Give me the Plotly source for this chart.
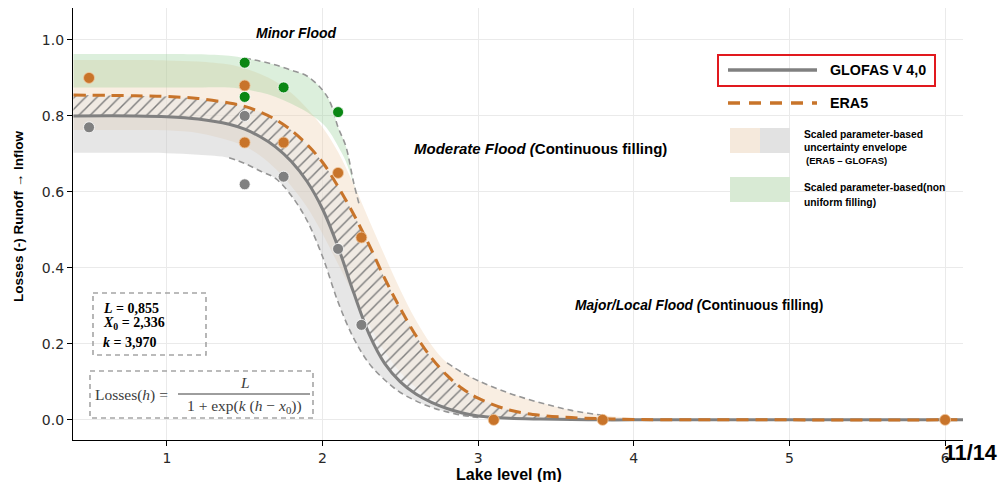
import plotly.graph_objects as go

# ---------------- data ----------------
h_curve = [0.4, 0.8, 1.0, 1.2, 1.4, 1.5, 1.6, 1.7, 1.8, 1.9, 2.0, 2.1, 2.2, 2.3, 2.4,
           2.5, 2.6, 2.7, 2.8, 2.9, 3.0, 3.2, 3.4, 3.6, 3.8, 4.0, 5.0, 6.12]
glofas = [0.800, 0.800, 0.798, 0.792, 0.778, 0.765, 0.745, 0.718, 0.680, 0.628, 0.555,
          0.455, 0.335, 0.225, 0.148, 0.100, 0.068, 0.046, 0.030, 0.018, 0.010, 0.004,
          0.002, 0.001, 0.0, 0.0, 0.0, 0.0]
era5 = [0.855, 0.853, 0.851, 0.846, 0.834, 0.825, 0.810, 0.790, 0.762, 0.725, 0.678,
        0.614, 0.541, 0.460, 0.372, 0.293, 0.222, 0.163, 0.117, 0.082, 0.057, 0.026,
        0.012, 0.006, 0.003, 0.001, 0.0, 0.0]
glofas_lower = [0.703, 0.703, 0.702, 0.698, 0.690, 0.675, 0.655, 0.635, 0.590, 0.525, 0.430,
                0.310, 0.215, 0.148, 0.105, 0.072, 0.050, 0.033, 0.021, 0.012, 0.006, 0.002,
                0.0, 0.0, 0.0, 0.0, 0.0, 0.0]
era5_upper = [0.947, 0.947, 0.946, 0.943, 0.935, 0.925, 0.910, 0.890, 0.860, 0.820, 0.770,
              0.705, 0.620, 0.525, 0.432, 0.342, 0.262, 0.197, 0.150, 0.124, 0.103, 0.070,
              0.045, 0.025, 0.012, 0.005, 0.0, 0.0]
era5_lower = [0.763, 0.763, 0.762, 0.755, 0.735, 0.720, 0.695, 0.660, 0.615, 0.560, 0.490,
              0.410, 0.330, 0.250, 0.180, 0.125, 0.085, 0.055, 0.035, 0.022, 0.013, 0.005,
              0.002, 0.0, 0.0, 0.0, 0.0, 0.0]

h_green = [0.4, 1.0, 1.2, 1.4, 1.5, 1.6, 1.7, 1.8, 1.9, 2.0, 2.05, 2.1, 2.15, 2.2, 2.24]
green_upper = [0.963, 0.963, 0.962, 0.958, 0.952, 0.944, 0.934, 0.920, 0.905, 0.868,
               0.835, 0.770, 0.720, 0.625, 0.560]
green_lower = [0.875, 0.875, 0.875, 0.875, 0.870, 0.862, 0.850, 0.832, 0.810, 0.780,
               0.755, 0.720, 0.680, 0.620, 0.560]

glofas_obs_h = [0.5, 1.5, 1.5, 1.75, 2.1, 2.25]
glofas_obs_v = [0.77, 0.80, 0.62, 0.64, 0.45, 0.25]
era5_obs_h = [0.5, 1.5, 1.5, 1.75, 2.1, 2.25, 3.1, 3.8, 6.0]
era5_obs_v = [0.90, 0.88, 0.73, 0.73, 0.65, 0.48, 0.0, 0.0, 0.0]
green_obs_h = [1.5, 1.5, 1.75, 2.1]
green_obs_v = [0.94, 0.85, 0.875, 0.81]

x_ticks = [1, 2, 3, 4, 5, 6]
y_ticks = [0.0, 0.2, 0.4, 0.6, 0.8, 1.0]
y_ticktext = ["0.0", "0.2", "0.4", "0.6", "0.8", "1.0"]

# ---------------- styles ----------------
GRAY = "rgb(128,128,128)"
ORANGE = "rgb(200,116,42)"
GREEN = "rgb(10,135,20)"
DASHGRAY = "rgb(150,150,150)"

# pixel -> paper helpers for decorations
L_PX, R_PX, T_PX, B_PX = 73, 963, 8, 440
def px(x):
    return (x - L_PX) / (R_PX - L_PX)
def py(y):
    return (B_PX - y) / (B_PX - T_PX)

fig = go.Figure()

def band(xl, yl, xu, yu, color, pattern=None):
    fig.add_trace(go.Scatter(x=xl, y=yl, mode="lines", line=dict(width=0, shape="spline"),
                             hoverinfo="skip", showlegend=False))
    kw = {}
    if pattern:
        kw["fillpattern"] = pattern
    fig.add_trace(go.Scatter(x=xu, y=yu, mode="lines", line=dict(width=0, shape="spline"),
                             fill="tonexty", fillcolor=color, hoverinfo="skip",
                             showlegend=False, **kw))

band(h_curve, era5_lower, h_curve, era5_upper, "rgba(238,208,175,0.36)")
band(h_curve, glofas_lower, h_curve, glofas, "rgba(200,200,200,0.45)")
band(h_green, green_lower, h_green, green_upper, "rgba(150,205,150,0.33)")
band(h_curve, glofas, h_curve, era5, "rgba(225,222,220,0.45)",
     pattern=dict(shape="/", fgcolor="rgb(125,125,125)", bgcolor="rgba(232,230,228,0.5)",
                  size=8, solidity=0.18, fillmode="replace"))

# dashed envelope boundaries
def seg(xs, ys, lo, hi):
    pts = [(a, b) for a, b in zip(xs, ys) if lo <= a <= hi]
    return [p[0] for p in pts], [p[1] for p in pts]

for xs, ys, lo, hi in [(h_green, green_upper, 1.45, 2.24),
                       (h_curve, glofas_lower, 1.4, 3.0),
                       (h_curve, era5_upper, 2.8, 3.8)]:
    sx, sy = seg(xs, ys, lo, hi)
    fig.add_trace(go.Scatter(x=sx, y=sy, mode="lines",
                             line=dict(color=DASHGRAY, width=1.6, dash="6px,4px", shape="spline"),
                             hoverinfo="skip", showlegend=False))

# main curves
fig.add_trace(go.Scatter(x=h_curve, y=glofas, mode="lines", name="GLOFAS V 4,0",
                         line=dict(color=GRAY, width=3, shape="spline"), showlegend=False))
fig.add_trace(go.Scatter(x=h_curve, y=era5, mode="lines", name="ERA5",
                         line=dict(color=ORANGE, width=3, dash="12px,7px", shape="spline"),
                         showlegend=False))

# observations
fig.add_trace(go.Scatter(x=glofas_obs_h, y=glofas_obs_v, mode="markers",
                         marker=dict(color=GRAY, size=11, line=dict(width=0.8, color="white")),
                         showlegend=False))
fig.add_trace(go.Scatter(x=era5_obs_h, y=era5_obs_v, mode="markers",
                         marker=dict(color=ORANGE, size=11, line=dict(width=0.8, color="rgb(240,200,160)")),
                         showlegend=False))
fig.add_trace(go.Scatter(x=green_obs_h, y=green_obs_v, mode="markers",
                         marker=dict(color=GREEN, size=11, line=dict(width=0.8, color="white")),
                         showlegend=False))

SANS = "Liberation Sans, Arial, sans-serif"
SERIF = "Liberation Serif, Times New Roman, serif"

def ann(x, y, text, size=13, family=SANS, color="black", xanchor="center", angle=0):
    return dict(x=px(x), y=py(y), xref="paper", yref="paper", text=text, showarrow=False,
                font=dict(size=size, family=family, color=color), xanchor=xanchor,
                yanchor="middle", textangle=angle)

annotations = [
    ann(296, 33, "<b><i>Minor Flood</i></b>", 14),
    ann(412, 148, "<b><i>Moderate Flood (</i>Continuous filling)</b>", 15, xanchor="left"),
    ann(573, 305, "<b><i>Major/Local Flood (</i>Continuous filling)</b>", 13.8, xanchor="left"),
    # legend
    ann(828, 70, "<b>GLOFAS V 4,0</b>", 14.3, xanchor="left"),
    ann(828, 103, "<b>ERA5</b>", 14.3, xanchor="left"),
    ann(802, 134, "<b>Scaled parameter-based</b>", 10.3, xanchor="left"),
    ann(802, 147, "<b>uncertainty envelope</b>", 10.3, xanchor="left"),
    ann(804, 160, "<b>(ERA5 – GLOFAS)</b>", 9.5, xanchor="left"),
    ann(802, 188, "<b>Scaled parameter-based(non</b>", 10.3, xanchor="left"),
    ann(802, 202, "<b>uniform filling)</b>", 10.3, xanchor="left"),
    # parameter box
    ann(101, 308, "<b><i>L</i> = 0,855</b>", 14, SERIF, xanchor="left"),
    ann(101, 324, "<b><i>X</i><sub>0</sub> = 2,336</b>", 14, SERIF, xanchor="left"),
    ann(101, 342, "<b><i>k</i> = 3,970</b>", 14, SERIF, xanchor="left"),
    # formula
    ann(93, 395, "Losses(<i>h</i>) =", 15.5, SERIF, color="rgb(60,60,60)", xanchor="left"),
    ann(245, 382, "<i>L</i>", 15.5, SERIF, color="rgb(60,60,60)"),
    ann(244, 406, "1 + exp(<i>k</i> (<i>h</i> − <i>x</i><sub>0</sub>))", 15.5, SERIF,
        color="rgb(60,60,60)"),
    # axis titles
    ann(509, 474, "<b>Lake level (m)</b>", 16),
    ann(18, 217, "<b>Losses (-) Runoff → Inflow</b>", 13.5, angle=-90),
    # page number
    ann(971, 453, "<b>11/14</b>", 21.5),
]

def rect(x0, y0, x1, y1, line=None, fill=None):
    d = dict(type="rect", xref="paper", yref="paper", x0=px(x0), x1=px(x1), y0=py(y0), y1=py(y1),
             layer="above")
    d["line"] = line if line else dict(width=0)
    if fill:
        d["fillcolor"] = fill
    return d

def hline(x0, x1, y, color, width, dash="solid"):
    return dict(type="line", xref="paper", yref="paper", x0=px(x0), x1=px(x1), y0=py(y), y1=py(y),
                line=dict(color=color, width=width, dash=dash), layer="above")

shapes = [
    rect(718, 55, 935, 86, line=dict(color="rgb(225,25,30)", width=2)),
    hline(728, 817, 70, GRAY, 3.5),
    hline(728, 817, 103, ORANGE, 3.5, "12px,9px"),
    rect(730, 128, 760, 153, fill="rgb(245,233,220)"),
    rect(760, 128, 790, 153, fill="rgb(226,226,226)"),
    rect(730, 177, 790, 202, fill="rgb(216,234,212)"),
    rect(93, 293, 206, 355, line=dict(color="rgb(165,165,165)", width=1.6, dash="5px,4px")),
    rect(90, 371, 313, 418, line=dict(color="rgb(165,165,165)", width=1.6, dash="5px,4px")),
    hline(178, 310, 394, "rgb(60,60,60)", 1),
]

fig.update_layout(
    width=1008, height=482,
    margin=dict(l=L_PX, r=1008 - R_PX, t=T_PX, b=482 - B_PX),
    paper_bgcolor="white", plot_bgcolor="white",
    showlegend=False,
    annotations=annotations, shapes=shapes,
    xaxis=dict(range=[0.397, 6.115], tickvals=x_ticks, showgrid=True,
               gridcolor="rgb(234,234,234)", gridwidth=1, zeroline=False,
               showline=True, linecolor="black", linewidth=1.2,
               ticks="outside", ticklen=5, tickcolor="black",
               tickfont=dict(family="DejaVu Sans, sans-serif", size=14, color="rgb(40,40,40)")),
    yaxis=dict(range=[-0.053, 1.084], tickvals=y_ticks, ticktext=y_ticktext, showgrid=True,
               gridcolor="rgb(234,234,234)", gridwidth=1, zeroline=False,
               showline=True, linecolor="black", linewidth=1.2,
               ticks="outside", ticklen=5, tickcolor="black",
               tickfont=dict(family="DejaVu Sans, sans-serif", size=14, color="rgb(40,40,40)")),
)

fig.write_html("out.html")
